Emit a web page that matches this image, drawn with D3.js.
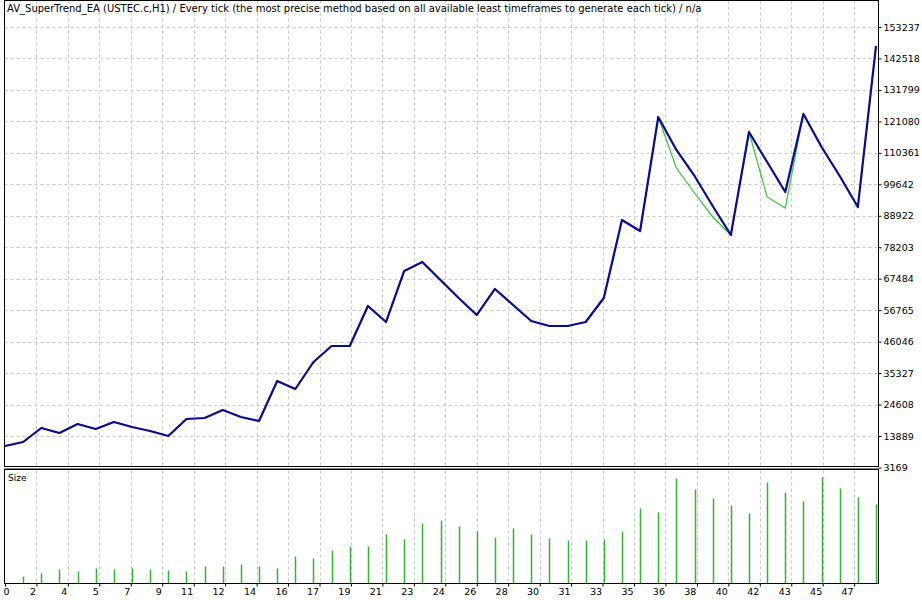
<!DOCTYPE html>
<html><head><meta charset="utf-8">
<script src="https://cdn.jsdelivr.net/npm/d3@7"></script>
<style>body{margin:0;background:#fff}svg{display:block}text{font-family:Tahoma,"DejaVu Sans",sans-serif;font-size:10px;fill:#000}</style>
</head><body><svg id="c" width="922" height="600"></svg>
<script>
const title = "AV_SuperTrend_EA (USTEC.c,H1) / Every tick (the most precise method based on all available least timeframes to generate each tick) / n/a";
const balance = [10494,11857,16627,14923,17989,16286,18671,16967,15605,13901,19693,20034,22759,20374,19012,32640,29914,39113,44564,44564,58192,52741,70117,73183,67050,60918,55126,63984,58533,53082,51378,51378,52741,60918,87492,83745,122584,111341,102483,92262,82382,117474,107253,97032,123606,112363,102483,91921,146774];
const equity = [10494,11857,16627,14923,17989,16286,18671,16967,15605,13901,19693,20034,22759,20374,19012,32640,29914,39113,44564,44564,58192,52741,70117,73183,67050,60918,55126,63984,58533,53082,51378,51378,52741,60918,87492,83745,122584,105209,96691,88514,82382,117474,95328,91581,123606,112363,102483,91921,146774];
const sizes = [7,10,14,12,15,14,15,14,13,12,17,17,19,17,15,27,25,33,37,37,49,44,60,63,57,52,46,55,49,45,43,43,44,52,75,71,105,94,85,78,70,101,91,82,106,95,86,79];
const yTicks = [3169,13889,24608,35327,46046,56765,67484,78203,88922,99642,110361,121080,131799,142518,153237];
const xTickLabels = ["0","2","4","5","7","9","11","12","14","16","17","19","21","23","24","26","28","30","31","33","35","36","38","40","42","43","45","47"];

const svg = d3.select("#c");
const L=4.5, R=878.5, T=0.5, MB=466.5, ST=470.5, SB=583.5;
const x = d3.scaleLinear().domain([0,48]).range([5,876]);
const y = d3.scaleLinear().domain([3169,153237]).range([467.5,27]);
const ys = d3.scaleLinear().domain([0,113]).range([SB,ST]);
const gridStep = 31.45/(x(1)-x(0));
const xTicks = xTickLabels.map((d,i)=>i*gridStep);
const dash="3,3", gc="#c8c8c8";

[[T,MB],[ST,SB]].forEach(([a,b])=>{
  svg.append("g").selectAll("line").data(xTicks.slice(1)).join("line")
    .attr("x1",d=>Math.round(x(d))+0.5).attr("x2",d=>Math.round(x(d))+0.5)
    .attr("y1",a).attr("y2",b).attr("stroke",gc).attr("stroke-dasharray",dash);
});
svg.append("g").selectAll("line").data(yTicks.slice(1)).join("line")
  .attr("x1",L).attr("x2",R).attr("y1",d=>Math.round(y(d))+0.5).attr("y2",d=>Math.round(y(d))+0.5)
  .attr("stroke",gc).attr("stroke-dasharray",dash);

svg.append("g").selectAll("line").data(sizes).join("line")
  .attr("x1",(d,i)=>Math.round(x(i+1))+0.5).attr("x2",(d,i)=>Math.round(x(i+1))+0.5)
  .attr("y1",SB).attr("y2",d=>ys(d)).attr("stroke","#32b432").attr("stroke-width",1.5);

const line = d3.line().x((d,i)=>x(i)).y(d=>y(d));
svg.append("path").datum(equity).attr("d",line).attr("fill","none").attr("stroke","#32c832").attr("stroke-width",1.2);
svg.append("path").datum(balance).attr("d",line).attr("fill","none").attr("stroke","#0a0a96").attr("stroke-width",2.2).attr("stroke-linejoin","round");

svg.append("rect").attr("x",L).attr("y",T).attr("width",R-L).attr("height",MB-T).attr("fill","none").attr("stroke","#000");
svg.append("rect").attr("x",L).attr("y",ST-1).attr("width",R-L).attr("height",SB-ST+1).attr("fill","none").attr("stroke","#000");
svg.append("line").attr("x1",L).attr("x2",R).attr("y1",ST-2).attr("y2",ST-2).attr("stroke","#888");

const ra = svg.append("g").attr("transform",`translate(${R},0)`).call(d3.axisRight(y).tickValues(yTicks).tickSize(3).tickFormat(d=>d));
ra.select(".domain").remove();
ra.selectAll("text").attr("x",5).style("font-size","9.5px");
ra.selectAll("line").attr("stroke","#000");
const ba = svg.append("g").attr("transform",`translate(0,${SB})`).call(d3.axisBottom(x).tickValues(xTicks).tickSize(3).tickFormat((d,i)=>xTickLabels[i]));
ba.select(".domain").remove();
ba.selectAll("text").attr("text-anchor",(d,i)=>i===0?"start":"end").attr("dx",(d,i)=>i===0?-2:-1).attr("y",5).style("font-size","9.5px");

svg.append("text").attr("x",7).attr("y",12).style("font-size","10px").text(title);
svg.append("text").attr("x",8).attr("y",481).style("font-size","9px").text("Size");
</script></body></html>
